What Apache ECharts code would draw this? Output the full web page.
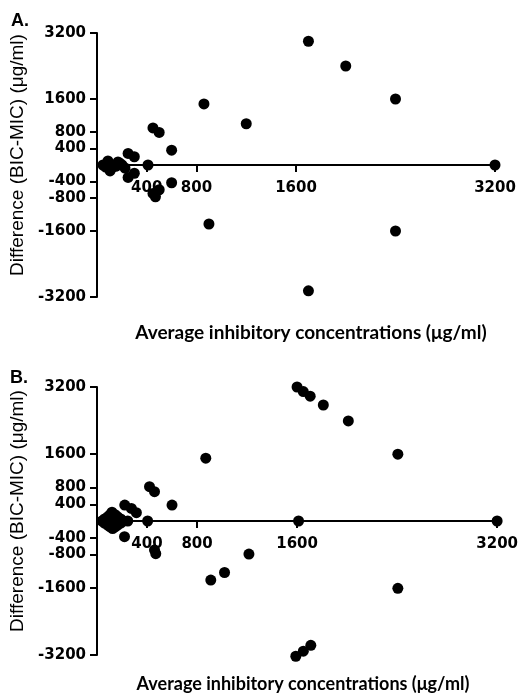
<!DOCTYPE html>
<html><head><meta charset="utf-8">
<script src="https://cdn.jsdelivr.net/npm/echarts@6/dist/echarts.min.js"></script>
<style>html,body{margin:0;padding:0;background:#fff}#c{width:521px;height:698px}</style>
</head><body><div id="c"></div>
<script>
// Panel A: average inhibitory concentration vs difference (BIC-MIC)
const avgA  = [48, 88, 129, 169, 201, 105, 225, 70, 150, 185, 250, 300, 250, 300, 410, 450, 500, 600, 600, 450, 500, 470, 860, 900, 1200, 1700, 2000, 2400, 2400, 1700, 3200];
const diffA = [0, 97, -48, 73, 0, -145, -73, -50, -30, 40, 280, 200, -300, -200, 0, 900, 790, 360, -430, -690, -600, -770, 1480, -1430, 1000, 3000, 2400, 1600, -1600, -3050, 0];
// Panel B
const avgB  = [40, 85, 120, 165, 210, 165, 125, 85, 125, 246, 85, 165, 60, 105, 145, 190, 60, 105, 145, 190, 105, 145, 222, 275, 315, 405, 220, 420, 460, 600, 460, 470, 870, 910, 1020, 1215, 1600, 1650, 1705, 1810, 2010, 2406, 1612, 3200, 2406, 1590, 1650, 1710];
const diffB = [0, 100, 210, 100, 0, -100, -180, -100, 0, 0, 0, 0, 50, 150, 150, 50, -50, -50, -50, -50, -140, -140, 380, 300, 200, 0, -375, 820, 700, 380, -690, -780, 1500, -1410, -1230, -790, 3200, 3090, 2980, 2770, 2390, 1595, 0, 0, -1607, -3230, -3110, -2970];
const yTicks = [-3200, -1600, -800, -400, 400, 800, 1600, 3200];
const xTicks = [400, 800, 1600, 3200];
const yName = 'Difference (BIC-MIC) (μg/ml)';
const xName = 'Average inhibitory concentrations (μg/ml)';

const pairs = (xs, ys) => xs.map((v, i) => [v, ys[i]]);
const tickFont = {fontFamily: 'DejaVu Sans', fontWeight: 'bold', fontSize: 15, color: '#000', formatter: v => String(v)};
function xAx(gi, h) {
  return {gridIndex: gi, type: 'value', min: 0, max: 3200, position: 'bottom', offset: -h / 2,
    axisLine: {onZero: false, lineStyle: {color: '#000', width: 2}},
    axisTick: {show: true, length: 7, lineStyle: {color: '#000', width: 2}, customValues: xTicks},
    axisLabel: Object.assign({margin: 16, customValues: xTicks}, tickFont),
    splitLine: {show: false}};
}
function yAx(gi) {
  return {gridIndex: gi, type: 'value', min: -3200, max: 3200,
    name: yName, nameLocation: 'middle', nameGap: 57,
    nameTextStyle: {fontFamily: 'Liberation Sans', fontSize: 19, color: '#000', padding: [0, 0, 0, 20]},
    axisLine: {show: true, lineStyle: {color: '#000', width: 2}},
    axisTick: {show: true, length: 7, lineStyle: {color: '#000', width: 2}, customValues: yTicks},
    axisLabel: Object.assign({margin: 11, customValues: yTicks}, tickFont),
    splitLine: {show: false}};
}
const chart = echarts.init(document.getElementById('c'), null, {renderer: 'canvas'});
chart.setOption({
  animation: false,
  backgroundColor: '#fff',
  grid: [
    {left: 97, top: 33, width: 398, height: 264},
    {left: 97, top: 387, width: 403, height: 268}
  ],
  xAxis: [xAx(0, 264), xAx(1, 268)],
  yAxis: [yAx(0), yAx(1)],
  series: [
    {type: 'scatter', xAxisIndex: 0, yAxisIndex: 0, data: pairs(avgA, diffA), symbolSize: 11, clip: false, itemStyle: {color: '#000', opacity: 1}},
    {type: 'scatter', xAxisIndex: 1, yAxisIndex: 1, data: pairs(avgB, diffB), symbolSize: 11, clip: false, itemStyle: {color: '#000', opacity: 1}}
  ],
  graphic: [
    {type: 'text', x: 11, y: 12, style: {text: 'A.', font: 'bold 18px "Liberation Sans"', fill: '#000'}},
    {type: 'text', x: 10, y: 369, style: {text: 'B.', font: 'bold 18px "Liberation Sans"', fill: '#000'}},
    {type: 'text', x: 311, y: 333, style: {text: xName, font: 'bold 19px Lato', fill: '#000', textAlign: 'center', textVerticalAlign: 'middle'}},
    {type: 'text', x: 303, y: 684, style: {text: xName, font: 'bold 18px Lato', fill: '#000', textAlign: 'center', textVerticalAlign: 'middle'}}
  ]
});
</script></body></html>
